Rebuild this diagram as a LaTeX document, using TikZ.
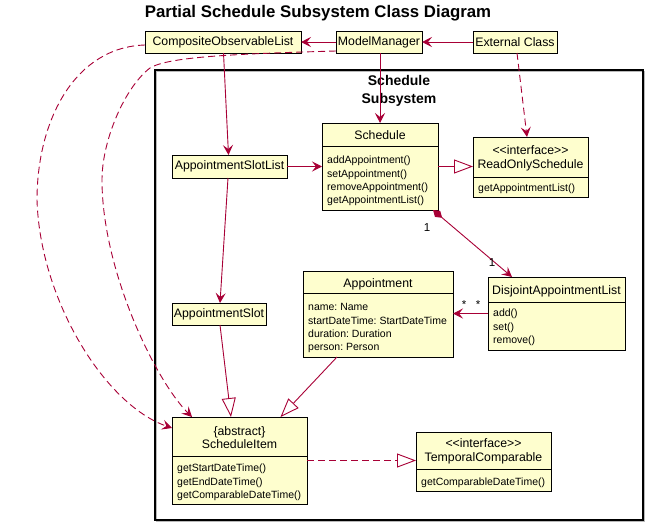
\documentclass[tikz,border=0pt]{standalone}
\usepackage{fontspec}
\setmainfont{Liberation Sans}
\usetikzlibrary{arrows.meta}
\frenchspacing
\definecolor{pu}{HTML}{A80036}
\definecolor{bf}{HTML}{FEFECE}
\newcommand\hdrfont{\fontsize{12.3}{14}\selectfont}
\newcommand\memfont{\fontsize{10.5}{12}\selectfont}
\newcommand\members[4]{\foreach \t [count=\i] in {#4} {\node[memtext] (#1\i) at ({#2},{#3+(\i-1)*13.3}) {\t};}}
\begin{document}
\begin{tikzpicture}[x=1pt,y=-1pt,
  cls/.style={draw=black, fill=bf, line width=0.9pt, inner sep=0pt, outer sep=0pt},
  hdr/.style={font=\hdrfont, inner sep=0pt, text height=9pt, text depth=0pt},
  memtext/.style={font=\memfont\frenchspacing, inner sep=0pt, anchor=base west},
  lbl/.style={font=\fontsize{11.5}{13}\selectfont, inner sep=0pt},
  edge/.style={draw=pu, line width=0.9pt},
  arr/.style={edge, -{Stealth[length=10pt, width=10pt, inset=4pt]}},
  darr/.style={arr, dash pattern=on 7pt off 4pt},
  ext/.style={edge, -{Triangle[open, fill=white, length=19pt, width=14pt]}},
  dext/.style={ext, dash pattern=on 7pt off 4pt},
  comp/.style={edge, {Diamond[length=12pt, width=8pt]}-{Stealth[length=10pt, width=10pt, inset=4pt]}},
]
\useasboundingbox (0,0) rectangle (647,525);
\node[font=\bfseries\fontsize{16.8}{20}\selectfont, inner sep=0pt] (title) at (318,13) {Partial Schedule Subsystem Class Diagram};

% package frame
\draw[gray!55, line width=1.2pt] (156.5,71.5) rectangle (644.5,521.5);
\draw[black, line width=1.1pt] (155,70) rectangle (643,520);
\node[font=\bfseries\fontsize{14}{18}\selectfont, align=center, inner sep=0pt] (pkg) at (399,91) {Schedule\\Subsystem};

% simple classes
\node[cls, minimum width=156, minimum height=22] (col) at (223,42) {\hdrfont CompositeObservableList};
\node[cls, minimum width=86, minimum height=22] (mm) at (379,42) {\hdrfont ModelManager};
\node[cls, minimum width=84, minimum height=22] (ec) at (515,42) {\hdrfont External Class};
\node[cls, minimum width=115, minimum height=23] (asl) at (229.5,166.5) {\hdrfont AppointmentSlotList};
\node[cls, minimum width=94, minimum height=22] (as) at (219,314) {\hdrfont AppointmentSlot};

% Schedule
\node[cls, minimum width=116, minimum height=87] (sched) at (380,166.5) {};
\draw[line width=0.9pt] (322,146) -- (438,146);
\node[hdr] (schedname) at (380,135) {Schedule};
\members{schedm}{327}{163.8}{addAppointment(),setAppointment(),removeAppointment(),getAppointmentList()}

% ReadOnlySchedule
\node[cls, minimum width=115, minimum height=60] (ros) at (530.5,167) {};
\draw[line width=0.9pt] (473,177) -- (588,177);
\node[hdr] (rosst) at (530.5,150) {<{}<interface>{}>};
\node[hdr] (rosname) at (530.5,163.5) {ReadOnlySchedule};
\members{rosm}{478}{191.8}{getAppointmentList()}

% DisjointAppointmentList
\node[cls, minimum width=137, minimum height=73] (dal) at (556.5,313.5) {};
\draw[line width=0.9pt] (488,302) -- (625,302);
\node[hdr] (dalname) at (556.5,290) {DisjointAppointmentList};
\members{dalm}{493}{316.8}{add(),set(),remove()}

% Appointment
\node[cls, minimum width=150, minimum height=86] (app) at (378,314) {};
\draw[line width=0.9pt] (303,293) -- (453,293);
\node[hdr] (appname) at (378,283) {Appointment};
\members{appm}{308}{310.8}{name: Name,startDateTime: StartDateTime,duration: Duration,person: Person}

% ScheduleItem
\node[cls, minimum width=135, minimum height=87] (si) at (239.5,460.5) {};
\draw[line width=0.9pt] (172,456) -- (307,456);
\node[hdr] (sist) at (239.5,431) {\{abstract\}};
\node[hdr] (siname) at (239.5,443.5) {ScheduleItem};
\members{sim}{177}{471.8}{getStartDateTime(),getEndDateTime(),getComparableDateTime()}

% TemporalComparable
\node[cls, minimum width=135, minimum height=59] (tc) at (483.5,461.5) {};
\draw[line width=0.9pt] (416,469) -- (551,469);
\node[hdr] (tcst) at (483.5,443) {<{}<interface>{}>};
\node[hdr] (tcname) at (483.5,457) {TemporalComparable};
\members{tcm}{421}{485.8}{getComparableDateTime()}

% connectors
\draw[arr] (mm.west) -- (col.east);
\draw[arr] (ec.west) -- (mm.east);
\draw[arr] ([xshift=1pt]mm.south) -- ([xshift=1pt]mm.south |- sched.north);
\draw[arr] ([xshift=0.5pt]col.south) -- ([xshift=-1pt]asl.north);
\draw[arr] (asl.east) -- (asl.east -| sched.west);
\draw[arr] ([xshift=-1.5pt]asl.south) -- ([xshift=1pt]as.north);
\draw[ext] (sched.east) -- (sched.east -| ros.west);
\draw[darr] ([xshift=2pt]ec.south) -- ([xshift=-3.5pt]ros.north);
\draw[comp] ([xshift=-5pt]sched.south east) -- ([xshift=-44.5pt]dal.north);
\node[lbl] (m1) at (427,228) {1};
\node[lbl] (m2) at (492,263) {1};
\draw[arr] (dal.west) -- (dal.west -| app.east);
\node[lbl] (s1) at (464,305) {*};
\node[lbl] (s2) at (478,305) {*};
\draw[ext] ([xshift=1pt]as.south) -- ([xshift=-8.5pt]si.north);
\draw[ext] ([xshift=-41pt]app.south) -- ([xshift=41pt]si.north);
\draw[dext] (si.east) -- (si.east -| tc.west);
\draw[darr] ([yshift=-3pt]col.west) .. controls (75,47) and (37,120) .. (37,200)
  .. controls (40,300) and (105,405) .. ([yshift=-11pt]si.north west);
\draw[darr] ([yshift=2pt]mm.south west) .. controls (230,54) and (168,57) .. (150,68)
  .. controls (125,87) and (102,140) .. (102,180)
  .. controls (102,270) and (155,380) .. ([xshift=20pt]si.north west);
\end{tikzpicture}
\end{document}
